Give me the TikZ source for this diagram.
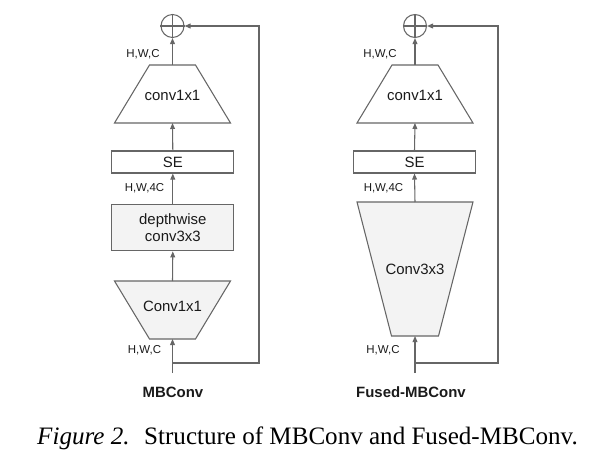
\documentclass[tikz,border=0pt]{standalone}
\usepackage{fontspec}
\setmainfont{Liberation Serif}
\setsansfont{Liberation Sans}
\usetikzlibrary{arrows.meta}
\definecolor{ln}{HTML}{666666}
\definecolor{fl}{HTML}{F3F3F3}
\definecolor{tx}{HTML}{1A1A1A}
\begin{document}
\begin{tikzpicture}[x=0.75pt,y=-0.75pt,
  shape line/.style={draw=ln,line width=0.8pt},
  conn/.style={draw=ln,line width=0.8pt,-{Triangle[length=4.5pt,width=3.6pt]}},
  plain/.style={draw=ln,line width=0.8pt},
  lbl/.style={font=\sffamily\fontsize{11.2}{13}\selectfont,text=tx,inner sep=0pt,align=center},
  dim/.style={font=\sffamily\fontsize{8.6}{10}\selectfont,text=tx,inner sep=0pt},
  ttl/.style={font=\sffamily\bfseries\fontsize{11.2}{13}\selectfont,text=tx,inner sep=0pt}]
\useasboundingbox (0,0) rectangle (604,460);
% ================= Left: MBConv =================
\node[circle,shape line,inner sep=0pt,minimum size=17.25pt] (sumL) at (172.5,26) {};
\draw[plain] (sumL.north) -- (sumL.south) (sumL.west) -- (sumL.east);
% top conv1x1 trapezoid
\draw[shape line] (149.5,65) -- (195.5,65) -- (230.5,123) -- (114.5,123) -- cycle;
\node[lbl] (c11L) at (172.5,95) {conv1x1};
\coordinate (c11Lt) at (172.5,65);
\coordinate (c11Lb) at (172.5,123);
% SE
\node[shape line,fill=white,minimum width=91.5pt,minimum height=16.5pt,inner sep=0pt] (seL) at (172.8,162) {};
\node[lbl] at (seL) {SE};
% depthwise
\node[shape line,fill=fl,minimum width=91.5pt,minimum height=35pt,inner sep=0pt] (dwL) at (172.8,227.5) {};
\node[lbl] at (dwL) {depthwise\\conv3x3};
% Conv1x1 expand
\draw[shape line,fill=fl] (114.5,281) -- (230.5,281) -- (195.5,339) -- (149.5,339) -- cycle;
\node[lbl] (exL) at (172.5,306) {Conv1x1};
\coordinate (exLt) at (172.5,281);
\coordinate (exLb) at (172.5,339);
% input and skip
\coordinate (inL) at (172.5,373);
\coordinate (skL) at (172.5,363);
\coordinate (sk1L) at (259,363);
\coordinate (sk2L) at (259,26);
\draw[conn] (inL) -- (exLb);
\draw[conn] (exLt) -- (dwL.south);
\draw[conn] (dwL.north) -- (seL.south);
\draw[conn] (seL.north) -- (c11Lb);
\draw[conn] (c11Lt) -- (sumL.south);
\draw[conn] (skL) -- (sk1L) -- (sk2L) -- (sumL.east);
% dims
\node[dim] (d1L) at (143,54) {H,W,C};
\node[dim] (d2L) at (144.5,188) {H,W,4C};
\node[dim] (d3L) at (144.5,350) {H,W,C};
\node[ttl] (tL) at (173,392) {MBConv};
% ================= Right: Fused-MBConv =================
\node[circle,shape line,inner sep=0pt,minimum size=17.25pt] (sumR) at (415,26) {};
\draw[plain] (sumR.north) -- (sumR.south) (sumR.west) -- (sumR.east);
\draw[shape line] (392,65) -- (438,65) -- (473,123) -- (357,123) -- cycle;
\node[lbl] (c11R) at (415,95) {conv1x1};
\coordinate (c11Rt) at (415,65);
\coordinate (c11Rb) at (415,123);
\node[shape line,fill=white,minimum width=91.5pt,minimum height=16.5pt,inner sep=0pt] (seR) at (414.5,162) {};
\node[lbl] at (seR) {SE};
\draw[shape line,fill=fl] (357,202) -- (473,202) -- (438.5,336) -- (391.5,336) -- cycle;
\node[lbl] (c33R) at (415,269) {Conv3x3};
\coordinate (c33Rt) at (415,202);
\coordinate (c33Rb) at (415,336);
\coordinate (inR) at (415,373);
\coordinate (skR) at (415,363);
\coordinate (sk1R) at (498,363);
\coordinate (sk2R) at (498,26);
\draw[conn] (inR) -- (c33Rb);
\draw[conn] (c33Rt) -- (seR.south);
\draw[conn] (seR.north) -- (c11Rb);
\draw[conn] (c11Rt) -- (sumR.south);
\draw[conn] (skR) -- (sk1R) -- (sk2R) -- (sumR.east);
\node[dim] (d1R) at (380,54) {H,W,C};
\node[dim] (d2R) at (383.5,188) {H,W,4C};
\node[dim] (d3R) at (383,350) {H,W,C};
\node[ttl] (tR) at (411,392) {Fused-MBConv};
% caption
\node[font=\fontsize{18.8}{21}\selectfont,inner sep=0pt,anchor=base] (cap) at (307.5,444) {\textit{Figure 2.}\hspace{0.25em} Structure of MBConv and Fused-MBConv.};
\end{tikzpicture}
\end{document}
